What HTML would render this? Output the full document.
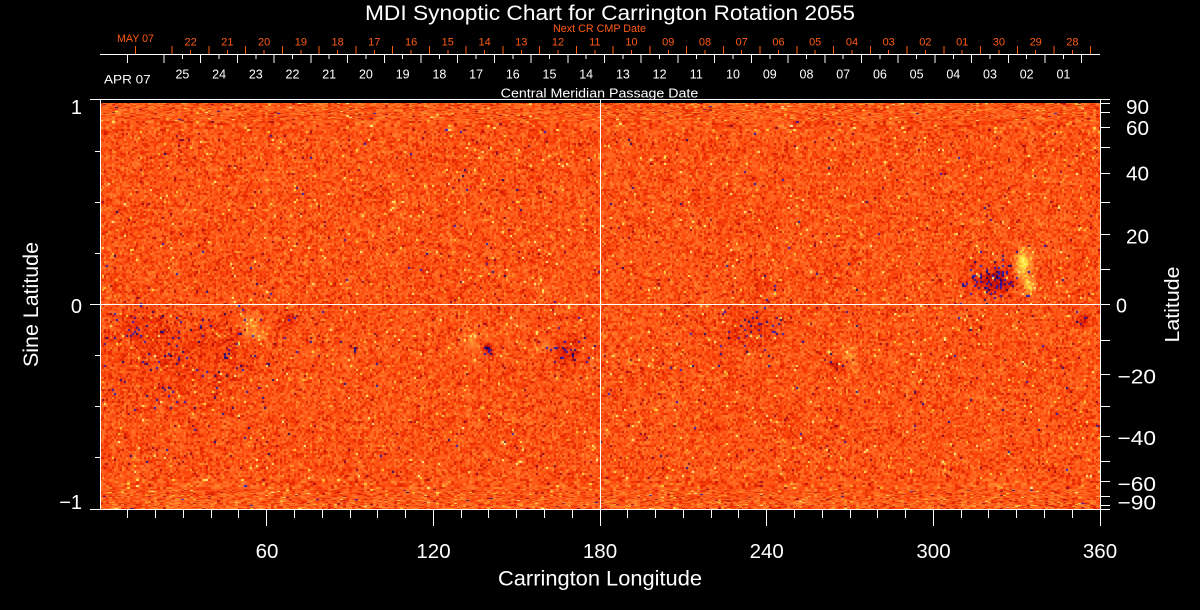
<!DOCTYPE html>
<html>
<head>
<meta charset="utf-8">
<style>
html,body{margin:0;padding:0;background:#000;}
#wrap{position:relative;width:1200px;height:610px;overflow:hidden;background:#000;}
#cv{position:absolute;left:100px;top:103px;width:1000px;height:406px;background:#f85216;}
svg{position:absolute;left:0;top:0;}
text{font-family:"Liberation Sans",sans-serif;}
</style>
</head>
<body>
<div id="wrap">
<canvas id="cv" width="1000" height="406"></canvas>
<svg width="1200" height="610" viewBox="0 0 1200 610" xmlns="http://www.w3.org/2000/svg">
<g stroke="#fff" stroke-width="1" shape-rendering="crispEdges" fill="none">
  <path d="M90 99.5H1110M90 509.5H1110M100.5 99.5V509.5M1100.5 99.5V526"/>
  <path d="M100 304.5H1100M600.5 99.5V509.5"/>
  <path d="M90 304.5H100M95 151.5H100M95 202.5H100M95 253.5H100M95 355.5H100M95 406.5H100M95 457.5H100"/>
  <path d="M1100 103.5H1110M1100 112.5H1110M1100 127.5H1110M1100 147.5H1110M1100 173.5H1110M1100 202.5H1110M1100 234.5H1110M1100 269.5H1110M1100 304.5H1110M1100 340.5H1110M1100 374.5H1110M1100 406.5H1110M1100 436.5H1110M1100 461.5H1110M1100 481.5H1110M1100 496.5H1110M1100 505.5H1110"/>
  <path d="M127.5 510V518M155.5 510V518M183.5 510V518M211.5 510V518M238.5 510V518M294.5 510V518M322.5 510V518M350.5 510V518M377.5 510V518M405.5 510V518M461.5 510V518M488.5 510V518M516.5 510V518M544.5 510V518M572.5 510V518M627.5 510V518M655.5 510V518M683.5 510V518M711.5 510V518M738.5 510V518M794.5 510V518M822.5 510V518M850.5 510V518M877.5 510V518M905.5 510V518M961.5 510V518M988.5 510V518M1016.5 510V518M1044.5 510V518M1072.5 510V518"/>
  <path d="M266.5 510V526M433.5 510V526M600.5 510V526M766.5 510V526M933.5 510V526"/>
  <path d="M100 54.5H1100"/>
  <path d="M127.3 55V63M164 55V63M200.7 55V63M237.4 55V63M274.1 55V63M310.9 55V63M347.6 55V63M384.3 55V63M421 55V63M457.7 55V63M494.4 55V63M531.1 55V63M567.8 55V63M604.5 55V63M641.2 55V63M677.9 55V63M714.7 55V63M751.4 55V63M788.1 55V63M824.8 55V63M861.5 55V63M898.2 55V63M934.9 55V63M971.6 55V63M1008.3 55V63M1045 55V63M1081.7 55V63"/>
  <path d="M182.4 55V59M219.1 55V59M255.8 55V59M292.5 55V59M329.2 55V59M365.9 55V59M402.7 55V59M439.4 55V59M476.1 55V59M512.8 55V59M549.5 55V59M586.2 55V59M622.9 55V59M659.6 55V59M696.3 55V59M733 55V59M769.8 55V59M806.5 55V59M843.2 55V59M879.9 55V59M916.6 55V59M953.3 55V59M990 55V59M1026.7 55V59M1063.4 55V59"/>
</g>
<g stroke="#ff5a14" stroke-width="1" shape-rendering="crispEdges" fill="none">
  <path d="M135.5 46V54M172.2 46V54M209 46V54M245.7 46V54M282.5 46V54M319.2 46V54M355.9 46V54M392.7 46V54M429.4 46V54M466.2 46V54M502.9 46V54M539.6 46V54M576.4 46V54M613.1 46V54M649.9 46V54M686.6 46V54M723.3 46V54M760.1 46V54M796.8 46V54M833.6 46V54M870.3 46V54M907 46V54M943.8 46V54M980.5 46V54M1017.3 46V54M1054 46V54M1090.7 46V54"/>
  <path d="M190.6 50V54M227.4 50V54M264.1 50V54M300.9 50V54M337.6 50V54M374.3 50V54M411.1 50V54M447.8 50V54M484.6 50V54M521.3 50V54M558 50V54M594.8 50V54M631.5 50V54M668.3 50V54M705 50V54M741.7 50V54M778.5 50V54M815.2 50V54M852 50V54M888.7 50V54M925.4 50V54M962.2 50V54M998.9 50V54M1035.7 50V54M1072.4 50V54"/>
</g>

<text x="365" y="20" font-size="21" fill="#fff" textLength="490" lengthAdjust="spacingAndGlyphs">MDI Synoptic Chart for Carrington Rotation 2055</text>

<g fill="#ff5a14" font-size="11">
  <text x="553" y="32" textLength="93" lengthAdjust="spacingAndGlyphs">Next CR CMP Date</text>
  <text x="117" y="42" textLength="37" lengthAdjust="spacingAndGlyphs">MAY 07</text>
  <g text-anchor="middle">
    <text x="190.6" y="45.5">22</text><text x="227.4" y="45.5">21</text><text x="264.1" y="45.5">20</text><text x="300.9" y="45.5">19</text><text x="337.6" y="45.5">18</text><text x="374.3" y="45.5">17</text><text x="411.1" y="45.5">16</text><text x="447.8" y="45.5">15</text><text x="484.6" y="45.5">14</text><text x="521.3" y="45.5">13</text><text x="558" y="45.5">12</text><text x="594.8" y="45.5">11</text><text x="631.5" y="45.5">10</text><text x="668.3" y="45.5">09</text><text x="705" y="45.5">08</text><text x="741.7" y="45.5">07</text><text x="778.5" y="45.5">06</text><text x="815.2" y="45.5">05</text><text x="852" y="45.5">04</text><text x="888.7" y="45.5">03</text><text x="925.4" y="45.5">02</text><text x="962.2" y="45.5">01</text><text x="998.9" y="45.5">30</text><text x="1035.7" y="45.5">29</text><text x="1072.4" y="45.5">28</text>
  </g>
</g>

<g fill="#fff" font-size="12.5">
  <text x="104" y="83.3" font-size="12" textLength="46.7" lengthAdjust="spacingAndGlyphs">APR 07</text>
  <g text-anchor="middle">
    <text x="182.4" y="78.3">25</text><text x="219.1" y="78.3">24</text><text x="255.8" y="78.3">23</text><text x="292.5" y="78.3">22</text><text x="329.2" y="78.3">21</text><text x="365.9" y="78.3">20</text><text x="402.7" y="78.3">19</text><text x="439.4" y="78.3">18</text><text x="476.1" y="78.3">17</text><text x="512.8" y="78.3">16</text><text x="549.5" y="78.3">15</text><text x="586.2" y="78.3">14</text><text x="622.9" y="78.3">13</text><text x="659.6" y="78.3">12</text><text x="696.3" y="78.3">11</text><text x="733" y="78.3">10</text><text x="769.8" y="78.3">09</text><text x="806.5" y="78.3">08</text><text x="843.2" y="78.3">07</text><text x="879.9" y="78.3">06</text><text x="916.6" y="78.3">05</text><text x="953.3" y="78.3">04</text><text x="990" y="78.3">03</text><text x="1026.7" y="78.3">02</text><text x="1063.4" y="78.3">01</text>
  </g>
  <text x="500.7" y="97.3" textLength="197.6" lengthAdjust="spacingAndGlyphs">Central Meridian Passage Date</text>
</g>

<g fill="#fff" font-size="20" text-anchor="end">
  <text x="82" y="114">1</text>
  <text x="82" y="313">0</text>
  <text x="82" y="509">−1</text>
</g>
<text transform="translate(38,304.5) rotate(-90)" x="0" y="0" fill="#fff" font-size="21" text-anchor="middle" textLength="125" lengthAdjust="spacingAndGlyphs">Sine Latitude</text>

<g fill="#fff" font-size="20">
  <text x="1126" y="114" textLength="23" lengthAdjust="spacingAndGlyphs">90</text>
  <text x="1126" y="135" textLength="23" lengthAdjust="spacingAndGlyphs">60</text>
  <text x="1126" y="180.7" textLength="23" lengthAdjust="spacingAndGlyphs">40</text>
  <text x="1126" y="243.3" textLength="23" lengthAdjust="spacingAndGlyphs">20</text>
  <text x="1116" y="312.7" textLength="11" lengthAdjust="spacingAndGlyphs">0</text>
  <text x="1117.5" y="383.3" textLength="38.5" lengthAdjust="spacingAndGlyphs">−20</text>
  <text x="1117.5" y="445" textLength="38.5" lengthAdjust="spacingAndGlyphs">−40</text>
  <text x="1117.5" y="491" textLength="38.5" lengthAdjust="spacingAndGlyphs">−60</text>
  <text x="1117.5" y="509.3" textLength="38.5" lengthAdjust="spacingAndGlyphs">−90</text>
</g>
<text transform="translate(1179,304.5) rotate(-90)" x="0" y="0" fill="#fff" font-size="20" text-anchor="middle" textLength="76" lengthAdjust="spacingAndGlyphs">Latitude</text>

<g fill="#fff" font-size="20.5" text-anchor="middle">
  <text x="267" y="558">60</text>
  <text x="433.5" y="558">120</text>
  <text x="600" y="558">180</text>
  <text x="766.7" y="558">240</text>
  <text x="933.5" y="558">300</text>
  <text x="1100" y="558">360</text>
</g>
<text x="498" y="585.5" fill="#fff" font-size="21" textLength="204" lengthAdjust="spacingAndGlyphs">Carrington Longitude</text>
</svg>
</div>
<script>
(function(){
var cv=document.getElementById('cv');
if(!cv.getContext) return;
var ctx=cv.getContext('2d');
var W=1000,H=406;
var im=ctx.createImageData(W,H); var d=im.data;
var s=987654321;
function r(){s^=s<<13;s^=s>>>17;s^=s<<5;return (s>>>0)/4294967296;}
function g(){var u=r()||1e-9,v=r();return Math.sqrt(-2*Math.log(u))*Math.cos(6.283185*v);}
var st=[[-1,10,0,90],[-0.7,30,30,210],[-0.5,110,0,50],[-0.3,190,10,0],[-0.12,238,45,0],[0,255,82,18],[0.15,255,120,42],[0.3,255,165,50],[0.5,255,225,60],[0.75,255,255,130],[1,255,255,240]];
function col(v){
  if(v<=-1) return st[0]; if(v>=1) return st[st.length-1];
  for(var i=1;i<st.length;i++){ if(v<=st[i][0]){var a=st[i-1],b=st[i],t=(v-a[0])/(b[0]-a[0]);
    return [0,a[1]+(b[1]-a[1])*t,a[2]+(b[2]-a[2])*t,a[3]+(b[3]-a[3])*t];}}
  return st[st.length-1];
}
var B=[
 [992,280,20,13,-0.3,0.35],
 [1022,262,7,14,0.55,0],
 [1028,285,6,10,0.38,0],
 [175,365,70,40,-0.06,0.03],
 [140,330,30,15,-0.08,0.05],
 [230,340,25,20,-0.07,0.04],
 [250,325,10,12,0.25,0],
 [262,335,6,6,0.2,0],
 [285,320,10,8,-0.12,0.08],
 [487,348,4,4,-0.5,0.6],
 [470,340,10,10,0.18,0],
 [565,350,15,12,-0.18,0.18],
 [545,345,10,8,0.15,0],
 [750,330,25,20,-0.1,0.08],
 [760,285,15,8,-0.08,0.06],
 [850,355,6,10,0.25,0],
 [835,365,8,6,-0.15,0.1],
 [1082,320,6,6,-0.2,0.15],
 [420,270,15,12,-0.04,0.03],
 [230,270,20,10,-0.05,0.03]
];
function bias(X,Y){
  var m=0,p=0;
  for(var i=0;i<B.length;i++){var b=B[i];var dx=(X-b[0])/b[2],dy=(Y-b[1])/b[3];var q=dx*dx+dy*dy; if(q>12) continue; var e=Math.exp(-q); m+=b[4]*e; p+=b[5]*e;}
  return [m,p];
}
var y=0;
while(y<H){
  var Y=y+103; var sl=(304.5-Y)/204.5; var as=Math.abs(sl);
  var ch=as>0.9?1:2; var cw=as>0.85?3:2;
  var sig=0.105+(as>0.85?(as-0.85)*0.25:0);
  var pb=as>0.85?(as-0.85)*0.25:0;
  for(var x=0;x<W;x+=cw){
    var X=x+100; var bb=bias(X,Y);
    var v=sig*g()+bb[0]+pb+0.01; var q=r();
    if(q<0.0015+bb[1]) v=-0.6-0.4*r();
    else if(q<0.0015+bb[1]+0.006) v=-0.35-0.15*r();
    else if(q>0.99-Math.max(0,bb[0])*0.2) v=0.35+0.5*r();
    var c=col(v);
    for(var yy=y;yy<y+ch&&yy<H;yy++){for(var xx=x;xx<x+cw&&xx<W;xx++){var k=(yy*W+xx)*4;d[k]=c[1];d[k+1]=c[2];d[k+2]=c[3];d[k+3]=255;}}
  }
  y+=ch;
}
ctx.putImageData(im,0,0);
})();
</script>
</body>
</html>
